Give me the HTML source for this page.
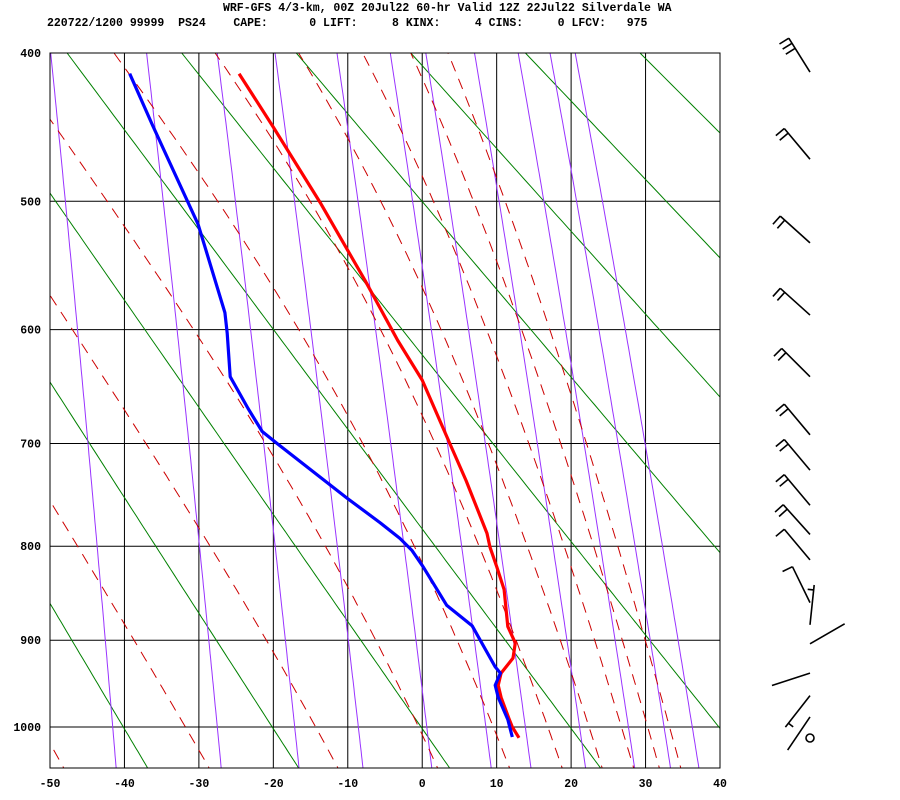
<!DOCTYPE html>
<html><head><meta charset="utf-8"><style>
body{margin:0;background:#fff;width:900px;height:800px;overflow:hidden}
svg{display:block}
text{font-family:"Liberation Mono",monospace;font-weight:bold;font-size:11.5px;fill:#000}
</style></head><body>
<svg id="chart" width="900" height="800">
<text x="223" y="11" xml:space="preserve">WRF-GFS 4/3-km, 00Z 20Jul22 60-hr Valid 12Z 22Jul22 Silverdale WA</text>
<text x="47" y="26" xml:space="preserve">220722/1200 99999  PS24    CAPE:      0 LIFT:     8 KINX:     4 CINS:     0 LFCV:   975</text>
<defs><clipPath id="plotclip"><rect x="50" y="53" width="670" height="715"/></clipPath></defs>
<g id="grid"></g>
<g id="bg" clip-path="url(#plotclip)"></g>
<g id="snd" clip-path="url(#plotclip)"></g>
<rect x="50" y="53" width="670" height="715" fill="none" stroke="#000" stroke-width="1"/>
<g id="axes"></g>
<g id="barbs"></g>
</svg>
<script>
// ---- data ----
const tempP = [413,448,501,560,609,643,700,735,787,801,821,845,885,903,920,937,951,965,991,1000,1013];
const tempT = [-24.6,-20.0,-13.7,-7.7,-3.3,0.0,3.7,5.9,8.7,9.1,10.0,11.0,11.5,12.5,12.2,10.6,10.2,10.6,11.7,12.1,13.0];
const dewP = [413,447,517,586,603,640,668,689,700,752,776,792,804,821,862,884,930,937,951,965,991,1012];
const dewT = [-39.3,-36.2,-30.1,-26.5,-26.2,-25.8,-23.4,-21.5,-19.5,-10.1,-5.7,-3.0,-1.4,0.1,3.3,6.7,9.8,10.5,9.8,10.2,11.5,12.1];
const barbP = [412,470,531,588,640,692,725,759,788,814,859,883,904,937,963,988];
const barbDir = [328,320,312,312,315,320,320,320,318,320,334,6,60,252,218,214];
const barbSpd = [30,20,20,20,20,20,20,20,20,10,10,5,0,0,5,0];
const xTicks = [-50,-40,-30,-20,-10,0,10,20,30,40];
const pTicks = [400,500,600,700,800,900,1000];
const thetaList = [213,233,253,273,293,313,333,353,373,393,413];
const thetaEList = [222,242,262,282,302,322,342,362,382,402];
const mixList = [0.1,0.4,1,2,4,7,10,16,24,32,40];

// ---- axis functions ----
const K=0.286, P0k=Math.pow(1000,K), P4k=Math.pow(400,K);
function yP(p){return 727-674*(P0k-Math.pow(p,K))/(P0k-P4k);}
function xT(t){return 50+(t+50)*670/90;}
const NS='http://www.w3.org/2000/svg';
function mk(tag,attrs,parent){const e=document.createElementNS(NS,tag);for(const k in attrs)e.setAttribute(k,attrs[k]);parent.appendChild(e);return e;}
function pts(arr){return arr.map(a=>a[0].toFixed(1)+','+a[1].toFixed(1)).join(' ');}
const pLevels=[];for(let p=1060;p>=390;p-=5)pLevels.push(p);
function es(t){return 6.112*Math.exp(17.67*t/(t+243.5));}

const grid=document.getElementById('grid'),bg=document.getElementById('bg'),snd=document.getElementById('snd'),axes=document.getElementById('axes'),barbs=document.getElementById('barbs');
xTicks.forEach(t=>{
  const l=mk('line',{x1:xT(t),x2:xT(t),y1:53,y2:768,stroke:'#000','stroke-width':1},grid);
  
  
  const tx=mk('text',{x:xT(t),y:787,'text-anchor':'middle'},axes);tx.textContent=t;
  
  
});
pTicks.forEach(p=>{
  const l=mk('line',{x1:50,x2:720,y1:yP(p),y2:yP(p),stroke:'#000','stroke-width':1},grid);
  
  
  const tx=mk('text',{x:41,y:yP(p)+4,'text-anchor':'end'},axes);tx.textContent=p;
  
  
});
// dry adiabats
thetaList.forEach(th=>{
  const a=pLevels.map(p=>[xT(th*Math.pow(p/1000,K)-273.15),yP(p)]);
  const l=mk('polyline',{points:pts(a),fill:'none',stroke:'#008000','stroke-width':1},bg);
  
  
});
// mixing ratio lines
mixList.forEach(w=>{
  const a=pLevels.map(p=>{const e=w*p/(622+w);const L=Math.log(e/6.112);return [xT(243.5*L/(17.67-L)),yP(p)];});
  const l=mk('polyline',{points:pts(a),fill:'none',stroke:'#9933ff','stroke-width':1},bg);
  
  
});
// moist adiabats (theta-e)
function thE(t,p){const T=t+273.15;const e=es(t);const ws=0.622*e/(p-e);return T*Math.pow(1000/p,K)*Math.exp(2.5e6*ws/(1004*T));}
thetaEList.forEach(te=>{
  const a=[];
  pLevels.forEach(p=>{let lo=-130,hi=60;for(let i=0;i<40;i++){const m=(lo+hi)/2;if(thE(m,p)>te)hi=m;else lo=m;}a.push([xT((lo+hi)/2),yP(p)]);});
  const l=mk('polyline',{points:pts(a),fill:'none',stroke:'#cc0000','stroke-width':1,'stroke-dasharray':'11,8'},bg);
  
  
});
// sounding
const tl=mk('polyline',{points:pts(tempP.map((p,i)=>[xT(tempT[i]),yP(p)])),fill:'none',stroke:'#ff0000','stroke-width':3.2,'stroke-linejoin':'round'},snd);


const dl=mk('polyline',{points:pts(dewP.map((p,i)=>[xT(dewT[i]),yP(p)])),fill:'none',stroke:'#0000ff','stroke-width':3.2,'stroke-linejoin':'round'},snd);


// wind barbs
barbP.forEach((p,i)=>{
  const g=mk('g',{stroke:'#000','stroke-width':1.6,fill:'none'},barbs);
  
  
  const bx=810,by=yP(p);const d=barbDir[i]*Math.PI/180;
  const ux=Math.sin(d),uy=-Math.cos(d);const px=uy,py=-ux;
  const L=40;const tx=bx+ux*L,ty=by+uy*L;
  mk('line',{x1:bx,y1:by,x2:tx,y2:ty},g);
  let s=barbSpd[i];let off=0;
  while(s>=10){const sx=tx-ux*off,sy=ty-uy*off;mk('line',{x1:sx,y1:sy,x2:sx+px*11,y2:sy+py*11},g);off+=6;s-=10;}
  if(s>=5){if(off===0)off=5;const sx=tx-ux*off,sy=ty-uy*off;mk('line',{x1:sx,y1:sy,x2:sx+px*6,y2:sy+py*6},g);}
});
const c=mk('circle',{cx:810,cy:738,r:4,stroke:'#000','stroke-width':1.6,fill:'none'},barbs);


</script>
</body></html>
